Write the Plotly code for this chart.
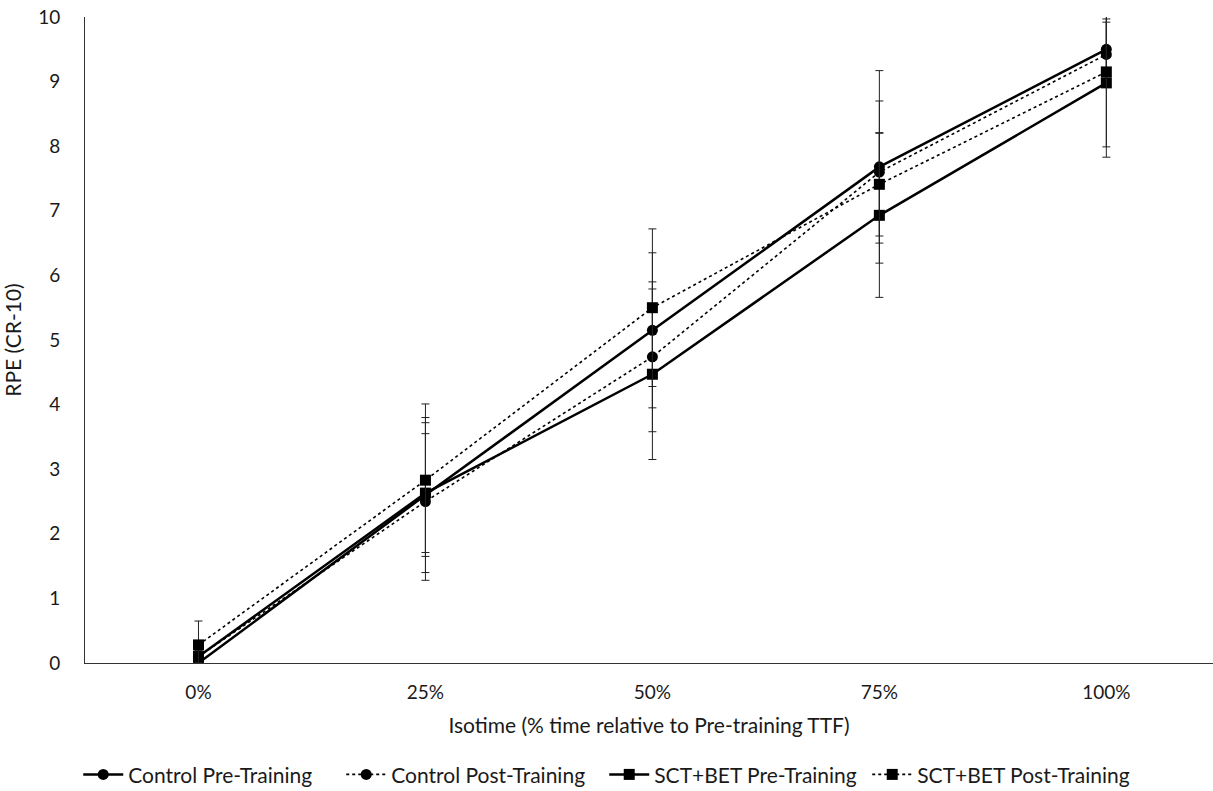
import plotly.graph_objects as go

categories = ["0%", "25%", "50%", "75%", "100%"]

control_pre = [0.0, 2.60, 5.15, 7.68, 9.50]
control_pre_err = [0.0, 1.20, 1.20, 1.49, 0.47]

control_post = [0.10, 2.50, 4.74, 7.60, 9.42]
control_post_err = [0.10, 1.22, 1.16, 1.10, 0.50]

sct_pre = [0.10, 2.63, 4.47, 6.93, 8.98]
sct_pre_err = [0.10, 0.92, 1.32, 1.27, 1.15]

sct_post = [0.28, 2.83, 5.50, 7.41, 9.15]
sct_post_err = [0.37, 1.18, 1.22, 0.80, 1.16]

series = [
    ("Control Pre-Training", control_pre, control_pre_err, "solid", 2.5, "circle"),
    ("Control Post-Training", control_post, control_post_err, "dot", 1.6, "circle"),
    ("SCT+BET Pre-Training", sct_pre, sct_pre_err, "solid", 2.5, "square"),
    ("SCT+BET Post-Training", sct_post, sct_post_err, "dot", 1.6, "square"),
]

fig = go.Figure()
for name, vals, errs, dash, lw, sym in series:
    fig.add_trace(go.Scatter(
        x=categories, y=vals, name=name, mode="lines+markers",
        line=dict(color="black", width=lw, dash=dash),
        marker=dict(symbol=sym, size=11, color="black"),
        error_y=dict(type="data", array=errs, visible=True, color="#222222",
                     thickness=1, width=4),
    ))

font_family = "Lato, 'Open Sans', sans-serif"
fig.update_layout(
    width=1213, height=791,
    margin=dict(l=85, r=0, t=17, b=128, autoexpand=False),
    paper_bgcolor="white", plot_bgcolor="white",
    font=dict(family=font_family, size=20, color="#1a1a1a"),
    showlegend=True,
    legend=dict(orientation="h", x=-0.006, xanchor="left", y=-0.173, yanchor="middle",
                font=dict(size=21), itemwidth=40, tracegroupgap=0,
                entrywidth=208, entrywidthmode="pixels"),
)
fig.update_xaxes(
    type="category", range=[-0.5, 4.47], showgrid=False, zeroline=False,
    showline=True, linecolor="#333333", linewidth=1, ticks="",
    automargin=False, ticklabelstandoff=12,
    tickfont=dict(size=19),
    title=dict(text="Isotime (% time relative to Pre-training TTF)", standoff=16,
               font=dict(size=21)),
)
fig.update_yaxes(
    range=[0, 10], dtick=1, showgrid=False, zeroline=False,
    showline=True, linecolor="#333333", linewidth=1, ticks="",
    automargin=False, ticklabelstandoff=20,
    tickfont=dict(size=19),
    title=dict(text="RPE (CR-10)", standoff=10, font=dict(size=21)),
)

fig.write_html("out.html", config={"displayModeBar": False},
               post_script="document.body.style.margin='0px';document.body.style.overflow='hidden';")
